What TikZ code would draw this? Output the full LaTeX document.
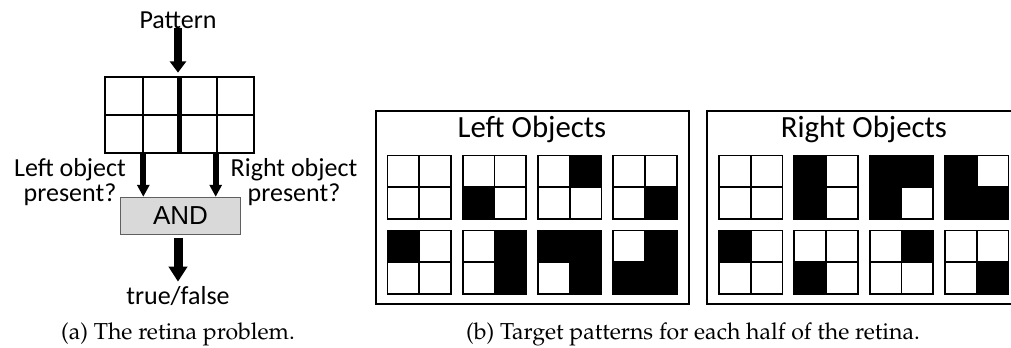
\documentclass[tikz,border=0pt]{standalone}
\usepackage[T1]{fontenc}
\usepackage{fontspec}
\setmainfont{Carlito}
\newfontfamily\andfont{Liberation Sans}
\newcommand{\capfont}{\fontencoding{T1}\fontfamily{ppl}\selectfont}
\usetikzlibrary{arrows.meta,calc,fit}
\definecolor{andfill}{HTML}{D9D9D9}
\definecolor{andedge}{HTML}{606060}
\tikzset{
  lbl/.style={inner sep=0pt, font=\fontsize{19.5pt}{18.75pt}\selectfont, align=center},
  ttl/.style={inner sep=0pt, font=\fontsize{23.1pt}{27pt}\selectfont},
  captxt/.style={inner sep=0pt, font=\capfont\fontsize{17.3pt}{21pt}\selectfont},
  gridline/.style={line width=1.5pt},
  sgline/.style={line width=1.3pt},
  panel/.style={draw, line width=1.4pt, inner sep=0pt, minimum width=235pt, minimum height=145pt},
  andbox/.style={draw=andedge, fill=andfill, line width=0.8pt, inner sep=0pt, minimum width=89.7pt, minimum height=27.75pt, font=\andfont\fontsize{19.5pt}{22pt}\selectfont},
  bigarrow/.style={line width=6pt, -{Triangle[width=12pt,length=8.5pt]}},
  midarrow/.style={line width=4.5pt, -{Triangle[width=9pt,length=9pt]}},
  botarrow/.style={line width=6.75pt, -{Triangle[width=13.5pt,length=11.25pt]}},
}
% small 2x2 grid: name, x, y (top-left, px), colours TL TR BL BR
\newcommand{\sgrid}[7]{%
  \node[inner sep=0pt, minimum size=47.25pt] (#1) at ({#2+31.5},{#3+31.5}) {};
  \fill[#4] (#2,#3) rectangle ++(31.5,31.5);
  \fill[#5] ({#2+31.5},#3) rectangle ++(31.5,31.5);
  \fill[#6] (#2,{#3+31.5}) rectangle ++(31.5,31.5);
  \fill[#7] ({#2+31.5},{#3+31.5}) rectangle ++(31.5,31.5);
  \draw[sgline] (#1.north west) rectangle (#1.south east);
  \draw[sgline] (#1.north) -- (#1.south);
  \draw[sgline] (#1.west) -- (#1.east);
}
\begin{document}
\begin{tikzpicture}[x=0.75pt, y=-0.75pt]
\useasboundingbox (0,0) rectangle (1011,347);
\clip (0,0) rectangle (1011,347);

% ---------- (a) retina problem ----------
\node[lbl, anchor=base] (pattern) at (178,28) {Pattern};

\coordinate (rtl) at (105.7,76.9);
\coordinate (rbr) at (254,152.3);
\node[fit=(rtl)(rbr), inner sep=0pt] (retina) {};
\draw[gridline] (retina.north west) rectangle (retina.south east);
\draw[gridline] (retina.west) -- (retina.east);
\draw[gridline] ($(retina.north west)!0.25!(retina.north east)$) -- ($(retina.south west)!0.25!(retina.south east)$);
\draw[gridline] ($(retina.north west)!0.75!(retina.north east)$) -- ($(retina.south west)!0.75!(retina.south east)$);
\draw[line width=3.75pt] (retina.north) -- (retina.south);

\node[andbox] (and) at (180.5,215.8) {AND};

\coordinate (xl) at (143.3,0);
\coordinate (xr) at (215.7,0);
\coordinate (xm) at (178,0);

\draw[bigarrow, shorten >=3pt] (pattern.south) -- (xm |- retina.north);
\draw[midarrow] (xl |- retina.south) -- (xl |- and.north);
\draw[midarrow] (xr |- retina.south) -- (xr |- and.north);

\node[lbl, anchor=base] (truefalse) at (178,304) {true/false};
\draw[botarrow, shorten <=2pt, shorten >=3pt] (xm |- and.south) -- (xm |- truefalse.north);

\node[lbl, anchor=base] (leftq) at (70,201.7) {Left object\\present?};
\node[lbl, anchor=base] (rightq) at (294,201.7) {Right object\\present?};

\node[captxt, anchor=base] (capa) at (178,339) {(a) The retina problem.};

% ---------- (b) target patterns ----------
\node[panel] (leftbox) at (532.35,207.65) {};
\node[panel] (rightbox) at (863.95,207.65) {};
\node[ttl, anchor=base] (lefttitle) at (532,137.3) {Left Objects};
\node[ttl, anchor=base] (righttitle) at (864,137.3) {Right Objects};

% Left objects
\sgrid{l1}{387.7}{155.7}{white}{white}{white}{white}
\sgrid{l2}{463.0}{155.7}{white}{white}{black}{white}
\sgrid{l3}{538.3}{155.7}{white}{black}{white}{white}
\sgrid{l4}{613.6}{155.7}{white}{white}{white}{black}
\sgrid{l5}{387.7}{230.7}{black}{white}{white}{white}
\sgrid{l6}{463.0}{230.7}{white}{black}{white}{black}
\sgrid{l7}{538.3}{230.7}{black}{black}{white}{black}
\sgrid{l8}{613.6}{230.7}{white}{black}{black}{black}

% Right objects
\sgrid{r1}{719.3}{155.7}{white}{white}{white}{white}
\sgrid{r2}{794.6}{155.7}{black}{white}{black}{white}
\sgrid{r3}{869.9}{155.7}{black}{black}{black}{white}
\sgrid{r4}{945.2}{155.7}{black}{white}{black}{black}
\sgrid{r5}{719.3}{230.7}{black}{white}{white}{white}
\sgrid{r6}{794.6}{230.7}{white}{white}{black}{white}
\sgrid{r7}{869.9}{230.7}{white}{black}{white}{white}
\sgrid{r8}{945.2}{230.7}{white}{white}{white}{black}

\node[captxt, anchor=base] (capb) at (693,339) {(b) Target patterns for each half of the retina.};
\end{tikzpicture}
\end{document}
